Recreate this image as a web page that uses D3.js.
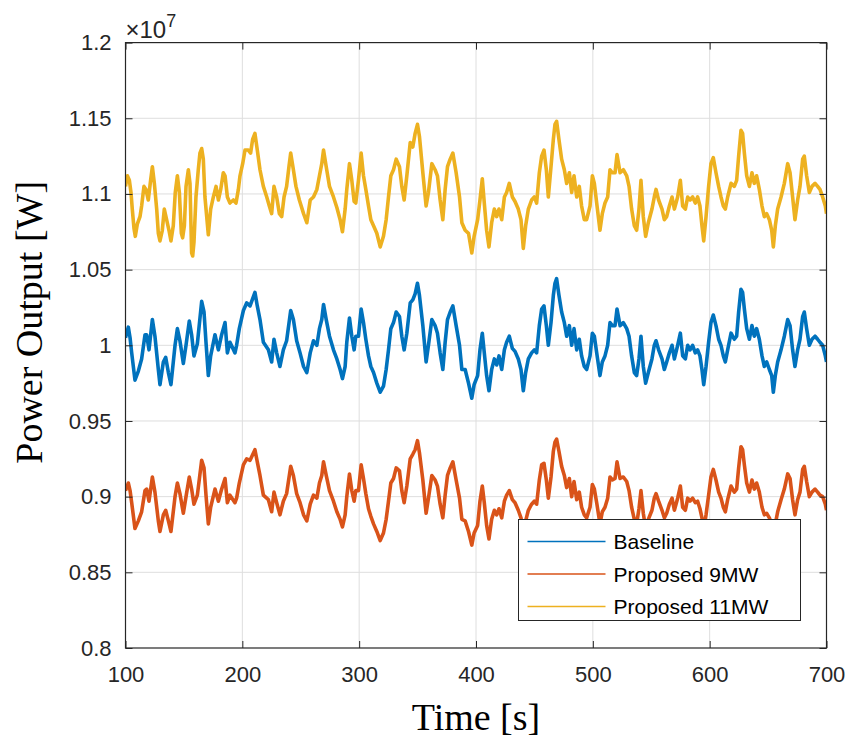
<!DOCTYPE html>
<html><head><meta charset="utf-8">
<script src="https://cdn.jsdelivr.net/npm/d3@7"></script>
<style>body{margin:0;background:#fff}svg{display:block}</style>
</head><body>
<svg id="chart" width="851" height="738"></svg>
<script>
// ---- data (power in units of 1e7 W, time in s) ----
const xTickValues = [100,200,300,400,500,600,700];
const yTickValues = [0.8,0.85,0.9,0.95,1.0,1.05,1.1,1.15,1.2];
const yTickLabels = ["0.8","0.85","0.9","0.95","1","1.05","1.1","1.15","1.2"];
const seriesNames = ["Baseline","Proposed 9MW","Proposed 11MW"];
const seriesColors = ["#0072BD","#D95319","#EDB120"];

// time stamps shared by Baseline and Proposed 9MW
const timeSec = [
100,102.4,103.9,105.3,108.1,111.0,113.8,116.7,118.1,120.1,123.0,125.2,128.1,129.5,132.4,134.4,136.7,138.9,142.4,144.4,146.6,149.5,151.8,154.6,156.6,158.6,161.5,165.2,167.2,168.9,170.9,172.9,176.6,179.5,182.3,185.2,187.2,189.4,193.7,195.1,197.4,200.9,203.7,206.6,210.8,212.8,215.1,218.0,222.3,225.1,227.1,229.4,232.2,235.1,237.9,241.4,243.7,246.5,249.4,
252.4,255.2,258.1,260.9,263.8,266.0,268.0,269.5,271.8,274.6,278.0,280.9,283.7,285.7,288.0,289.4,291.7,293.7,295.7,297.1,299.4,301.7,303.7,305.7,308.0,310.0,312.3,315.1,318.0,320.8,323.1,325.1,327.1,329.4,331.7,334.5,336.5,338.5,340.8,343.7,345.9,347.9,349.9,351.6,354.5,357.3,359.3,362.2,365.0,367.0,369.3,371.6,373.6,375.6,377.9,380.2,383.0,385.9,387.9,390.7,393.6,396.4,398.4,
401.4,403.4,405.4,407.1,409.1,411.1,413.4,415.7,417.7,419.7,422.0,424.3,426.2,428.5,431.1,433.4,436.2,438.5,440.5,442.5,444.8,447.6,449.9,451.9,454.2,456.2,458.2,460.2,461.9,464.2,466.2,467.6,469.0,471.0,473.3,475.6,477.6,479.9,481.9,483.9,486.2,488.4,490.4,492.7,494.7,497.6,499.6,501.3,503.3,506.1,508.1,510.4,512.7,514.7,516.7,519.0,520.7,523.3,526.1,529.0,531.0,533.2,535.5,537.5,539.5,541.2,543.2,545.2,547.5,
550.6,552.6,554.1,556.3,559.2,561.2,563.2,565.5,567.8,569.8,572.6,574.9,576.9,579.2,581.2,583.2,585.4,587.7,589.7,591.7,593.4,594.9,596.9,599.1,601.1,603.1,605.4,607.7,609.7,611.7,613.4,615.4,618.3,621.1,623.1,624.8,626.8,628.2,629.7,631.7,634.0,636.2,638.2,640.2,642.5,644.8,646.8,648.8,651.1,653.1,654.5,656.2,658.2,661.1,663.9,666.8,668.8,671.0,673.0,675.3,677.3,679.6,681.0,683.0,685.3,687.6,690.2,692.4,694.4,696.7,699.0,700];

const baselinePower = [
1.005,1.012,1.005,0.995,0.977,0.983,0.991,1.007,1.007,0.997,1.017,1.006,0.984,0.974,0.989,0.992,0.982,0.974,1.000,1.011,1.003,0.988,1.000,1.016,1.007,0.993,1.001,1.029,1.022,1.002,0.980,0.993,1.007,0.997,1.007,1.015,0.995,1.002,0.995,1.000,1.011,1.023,1.028,1.026,1.035,1.026,1.017,1.002,0.997,0.989,1.004,0.995,0.986,0.997,1.003,1.023,1.017,1.003,0.995,
0.986,0.982,0.995,1.003,1.000,1.011,1.017,1.027,1.017,1.006,0.997,0.991,0.984,0.978,0.986,1.002,1.018,1.006,0.997,1.006,1.006,1.024,1.015,1.004,0.993,0.986,0.982,0.975,0.969,0.973,0.984,0.997,1.011,1.015,1.022,1.019,1.006,0.997,1.008,1.028,1.030,1.034,1.041,1.033,1.013,0.989,1.000,1.017,1.013,1.008,0.995,0.984,1.002,1.017,1.022,1.026,1.013,1.000,0.984,0.984,0.975,0.965,0.974,
0.980,0.997,1.008,0.995,0.980,0.970,0.984,0.991,0.987,0.993,0.984,0.997,1.002,1.006,0.998,0.996,0.991,0.984,0.970,0.982,0.991,0.995,0.997,0.995,1.013,1.024,1.026,1.013,1.000,1.015,1.033,1.041,1.044,1.033,1.022,1.015,1.006,1.013,1.000,1.011,0.997,1.004,0.993,0.986,0.984,0.993,1.008,1.006,0.995,0.980,0.989,0.993,1.000,1.015,1.013,1.013,1.024,1.013,1.015,1.011,1.006,0.993,0.982,0.980,0.991,1.006,0.986,0.975,0.982,
0.991,1.000,1.003,0.997,0.991,0.984,0.989,0.995,1.000,0.991,1.000,1.008,0.993,0.991,1.000,0.997,1.000,0.995,0.997,0.993,0.984,0.974,0.986,1.002,1.015,1.020,1.013,1.004,1.000,0.993,0.989,0.997,1.008,1.004,1.006,1.022,1.037,1.035,1.024,1.011,1.004,1.013,1.006,1.011,1.004,0.993,0.986,0.989,0.984,0.980,0.969,0.980,0.989,0.997,1.006,1.017,1.013,0.997,0.986,0.997,1.004,1.019,1.022,1.011,1.000,1.004,1.006,1.004,1.002,1.000,0.993,0.989];

const proposed9Power = [
0.904,0.909,0.904,0.896,0.879,0.884,0.890,0.904,0.905,0.897,0.913,0.903,0.884,0.877,0.888,0.891,0.884,0.877,0.900,0.909,0.902,0.889,0.900,0.913,0.905,0.895,0.901,0.924,0.919,0.901,0.882,0.893,0.905,0.897,0.905,0.912,0.896,0.901,0.896,0.899,0.909,0.921,0.925,0.924,0.931,0.923,0.914,0.901,0.898,0.890,0.903,0.896,0.888,0.897,0.902,0.920,0.914,0.902,0.896,
0.888,0.884,0.895,0.901,0.899,0.909,0.914,0.923,0.914,0.904,0.897,0.890,0.885,0.880,0.888,0.900,0.915,0.904,0.897,0.904,0.904,0.921,0.912,0.902,0.892,0.887,0.882,0.877,0.871,0.876,0.885,0.897,0.909,0.912,0.919,0.917,0.904,0.896,0.907,0.925,0.928,0.931,0.937,0.929,0.911,0.889,0.899,0.914,0.911,0.907,0.895,0.886,0.901,0.914,0.919,0.923,0.911,0.899,0.885,0.884,0.877,0.868,0.876,
0.881,0.897,0.907,0.896,0.881,0.872,0.885,0.891,0.888,0.892,0.886,0.897,0.901,0.904,0.898,0.896,0.891,0.886,0.874,0.884,0.891,0.895,0.897,0.895,0.911,0.921,0.922,0.911,0.899,0.913,0.930,0.936,0.938,0.930,0.920,0.914,0.906,0.912,0.900,0.910,0.898,0.903,0.893,0.888,0.886,0.893,0.908,0.905,0.896,0.882,0.890,0.893,0.899,0.913,0.911,0.912,0.923,0.912,0.913,0.910,0.904,0.893,0.885,0.882,0.892,0.904,0.889,0.879,0.885,
0.891,0.899,0.902,0.897,0.891,0.886,0.889,0.895,0.899,0.891,0.899,0.907,0.893,0.891,0.899,0.897,0.899,0.896,0.897,0.892,0.886,0.878,0.888,0.901,0.913,0.918,0.911,0.903,0.899,0.893,0.890,0.898,0.907,0.903,0.905,0.919,0.933,0.931,0.921,0.909,0.903,0.911,0.905,0.909,0.903,0.893,0.888,0.889,0.886,0.882,0.874,0.882,0.890,0.898,0.905,0.915,0.912,0.898,0.888,0.898,0.903,0.918,0.920,0.910,0.900,0.903,0.905,0.903,0.901,0.900,0.895,0.891];

// time stamps for Proposed 11MW
const time11 = [
100,101.6,103.3,104.7,105.8,107.3,108.4,110.1,112.4,113.8,115.8,117.5,119.5,121.5,123.0,124.7,126.7,128.1,129.5,131.5,133.2,135.2,137.2,138.9,140.9,142.6,144.4,146.1,147.8,148.9,150.4,151.8,153.8,155.2,156.6,157.5,158.6,160.3,162.3,163.7,165.2,166.6,168.0,169.5,170.9,172.9,175.2,177.5,179.5,181.5,183.7,185.2,187.2,189.4,192.3,194.6,196.6,198.0,200.3,202.3,205.1,207.1,208.8,210.8,212.8,215.1,218.0,220.9,223.1,225.1,227.1,229.4,231.7,233.7,235.7,237.9,239.9,241.4,243.7,245.9,248.8,
252.4,255.2,258.1,260.9,263.8,266.0,268.0,269.5,271.8,274.6,278.0,280.9,283.7,285.7,288.0,289.4,291.7,293.7,295.7,297.1,299.4,301.7,303.7,305.7,308.0,310.0,312.3,315.1,318.0,320.8,323.1,325.1,327.1,329.4,331.7,334.5,336.5,338.5,340.8,343.7,345.9,347.9,349.9,351.6,354.5,357.3,359.3,362.2,365.0,367.0,369.3,371.6,373.6,375.6,377.9,380.2,383.0,385.9,387.9,390.7,393.6,396.4,398.4,
401.4,403.4,405.4,407.1,409.1,411.1,413.4,415.7,417.7,419.7,422.0,424.3,426.2,428.5,431.1,433.4,436.2,438.5,440.5,442.5,444.8,447.6,449.9,451.9,454.2,456.2,458.2,460.2,461.9,464.2,466.2,467.6,469.0,471.0,473.3,475.6,477.6,479.9,481.9,483.9,486.2,488.4,490.4,492.7,494.7,497.6,499.6,501.3,503.3,506.1,508.1,510.4,512.7,514.7,516.7,519.0,520.7,523.3,526.1,529.0,531.0,533.2,535.5,537.5,539.5,541.2,543.2,545.2,547.5,
550.6,552.6,554.1,556.3,559.2,561.2,563.2,565.5,567.8,569.8,572.6,574.9,576.9,579.2,581.2,583.2,585.4,587.7,589.7,591.7,593.4,594.9,596.9,599.1,601.1,603.1,605.4,607.7,609.7,611.7,613.4,615.4,618.3,621.1,623.1,624.8,626.8,628.2,629.7,631.7,634.0,636.2,638.2,640.2,642.5,644.8,646.8,648.8,651.1,653.1,654.5,656.2,658.2,661.1,663.9,666.8,668.8,671.0,673.0,675.3,677.3,679.6,681.0,683.0,685.3,687.6,690.2,692.4,694.4,696.7,699.0,700];

const proposed11Power = [
1.105,1.112,1.109,1.101,1.090,1.077,1.072,1.080,1.085,1.092,1.105,1.103,1.096,1.109,1.118,1.107,1.090,1.074,1.069,1.076,1.090,1.083,1.076,1.069,1.079,1.101,1.112,1.101,1.074,1.071,1.079,1.105,1.116,1.107,1.061,1.059,1.068,1.098,1.116,1.127,1.130,1.123,1.098,1.085,1.073,1.090,1.098,1.105,1.096,1.103,1.114,1.112,1.098,1.094,1.096,1.094,1.103,1.112,1.120,1.129,1.129,1.127,1.136,1.140,1.129,1.116,1.105,1.098,1.092,1.087,1.105,1.098,1.087,1.085,1.098,1.105,1.118,1.127,1.116,1.105,1.096,
1.087,1.081,1.096,1.098,1.103,1.112,1.120,1.129,1.118,1.105,1.098,1.091,1.083,1.075,1.090,1.103,1.120,1.109,1.095,1.094,1.109,1.127,1.112,1.103,1.092,1.083,1.079,1.074,1.065,1.072,1.083,1.098,1.112,1.116,1.123,1.118,1.105,1.096,1.112,1.134,1.131,1.140,1.146,1.138,1.114,1.092,1.101,1.120,1.116,1.112,1.096,1.083,1.103,1.118,1.123,1.127,1.114,1.098,1.081,1.076,1.074,1.061,1.072,
1.083,1.096,1.110,1.094,1.076,1.065,1.081,1.090,1.085,1.090,1.083,1.098,1.101,1.107,1.098,1.095,1.090,1.083,1.064,1.079,1.090,1.096,1.098,1.094,1.114,1.125,1.129,1.116,1.098,1.118,1.136,1.146,1.148,1.136,1.123,1.116,1.107,1.114,1.101,1.112,1.098,1.105,1.092,1.083,1.083,1.092,1.112,1.107,1.094,1.076,1.087,1.094,1.098,1.116,1.114,1.114,1.126,1.114,1.116,1.112,1.105,1.090,1.079,1.076,1.090,1.109,1.085,1.072,1.081,
1.090,1.098,1.103,1.096,1.090,1.083,1.085,1.092,1.098,1.090,1.098,1.109,1.092,1.090,1.098,1.096,1.098,1.094,1.098,1.092,1.079,1.069,1.085,1.105,1.120,1.124,1.114,1.105,1.098,1.092,1.090,1.098,1.107,1.105,1.109,1.125,1.142,1.140,1.127,1.112,1.105,1.114,1.107,1.112,1.103,1.092,1.085,1.087,1.083,1.076,1.065,1.079,1.090,1.098,1.107,1.120,1.114,1.098,1.083,1.096,1.105,1.123,1.125,1.112,1.101,1.105,1.107,1.105,1.103,1.098,1.092,1.087];

// ---- layout ----
const W = 851, H = 738;
const margin = {left:125.5, right:24.5, top:42.6, bottom:90};
const pw = W - margin.left - margin.right;
const ph = H - margin.top - margin.bottom;
const axisColor = "#262626";

const svg = d3.select("#chart");
const g = svg.append("g").attr("transform", `translate(${margin.left},${margin.top})`);

const x = d3.scaleLinear().domain([100,700]).range([0,pw]);
const y = d3.scaleLinear().domain([0.8,1.2]).range([ph,0]);

g.append("rect").attr("width",pw).attr("height",ph).attr("fill","#fff");

// grid
const gridColor = "#dedede";
g.append("g").selectAll("line").data(xTickValues.slice(1,-1)).join("line")
  .attr("x1",d=>x(d)).attr("x2",d=>x(d)).attr("y1",0).attr("y2",ph)
  .attr("stroke",gridColor).attr("stroke-width",1);
g.append("g").selectAll("line").data(yTickValues.slice(1,-1)).join("line")
  .attr("y1",d=>y(d)).attr("y2",d=>y(d)).attr("x1",0).attr("x2",pw)
  .attr("stroke",gridColor).attr("stroke-width",1);

// series
const seriesData = [
  timeSec.map((t,i)=>[t, baselinePower[i]]),
  timeSec.map((t,i)=>[t, proposed9Power[i]]),
  time11.map((t,i)=>[t, proposed11Power[i]])
];
const line = d3.line().x(d=>x(d[0])).y(d=>y(d[1]));
svg.append("defs").append("clipPath").attr("id","clip")
  .append("rect").attr("width",pw).attr("height",ph);
g.append("g").attr("clip-path","url(#clip)").selectAll("path").data(seriesData).join("path")
  .attr("d",line).attr("fill","none")
  .attr("stroke",(d,i)=>seriesColors[i]).attr("stroke-width",3.6)
  .attr("stroke-linejoin","round");

// axes
const tickFont = "Liberation Sans, Arial, Helvetica, sans-serif";
const xAxis = d3.axisBottom(x).tickValues(xTickValues).tickSizeInner(-7).tickSizeOuter(0).tickPadding(18);
const xTop = d3.axisTop(x).tickValues(xTickValues).tickSizeInner(-7).tickSizeOuter(0).tickFormat("");
const yAxis = d3.axisLeft(y).tickValues(yTickValues).tickSizeInner(-7).tickSizeOuter(0).tickPadding(14)
  .tickFormat((d,i)=>yTickLabels[i]);
const yRight = d3.axisRight(y).tickValues(yTickValues).tickSizeInner(-7).tickSizeOuter(0).tickFormat("");

function styleAxis(sel){
  sel.select(".domain").remove();
  sel.selectAll(".tick line").attr("stroke",axisColor).attr("stroke-width",1);
  sel.selectAll(".tick text").attr("fill",axisColor).attr("font-family",tickFont).attr("font-size",22);
}
g.append("g").attr("transform",`translate(0,${ph})`).call(xAxis).call(styleAxis);
g.append("g").call(xTop).call(styleAxis);
g.append("g").call(yAxis).call(styleAxis);
g.append("g").attr("transform",`translate(${pw},0)`).call(yRight).call(styleAxis);

g.append("rect").attr("width",pw).attr("height",ph).attr("fill","none")
  .attr("stroke",axisColor).attr("stroke-width",1.2);

// exponent label
const expo = svg.append("text").attr("x",margin.left).attr("y",margin.top-5)
  .attr("font-family",tickFont).attr("font-size",24).attr("fill",axisColor);
expo.append("tspan").text("×10");
expo.append("tspan").attr("font-size",18).attr("dy",-11).text("7");

// axis titles
const serif = "Liberation Serif, Times New Roman, serif";
svg.append("text").attr("x",margin.left+pw/2).attr("y",H-8)
  .attr("text-anchor","middle").attr("font-family",serif).attr("font-size",38)
  .attr("fill","#000").text("Time [s]");
svg.append("text").attr("transform",`translate(42,${margin.top+ph/2-23}) rotate(-90)`)
  .attr("text-anchor","middle").attr("font-family",serif).attr("font-size",38)
  .attr("fill","#000").text("Power Output [W]");

// legend
const lg = svg.append("g").attr("transform","translate(518.5,519.5)");
lg.append("rect").attr("width",282).attr("height",101).attr("fill","#fff")
  .attr("stroke",axisColor).attr("stroke-width",1);
seriesNames.forEach((name,i)=>{
  const yy = 22 + i*32.5;
  lg.append("line").attr("x1",9).attr("x2",87).attr("y1",yy).attr("y2",yy)
    .attr("stroke",seriesColors[i]).attr("stroke-width",1.5);
  lg.append("text").attr("x",95).attr("y",yy+7.5).attr("font-family",tickFont)
    .attr("font-size",21).attr("fill","#000").text(name);
});
</script>
</body></html>
